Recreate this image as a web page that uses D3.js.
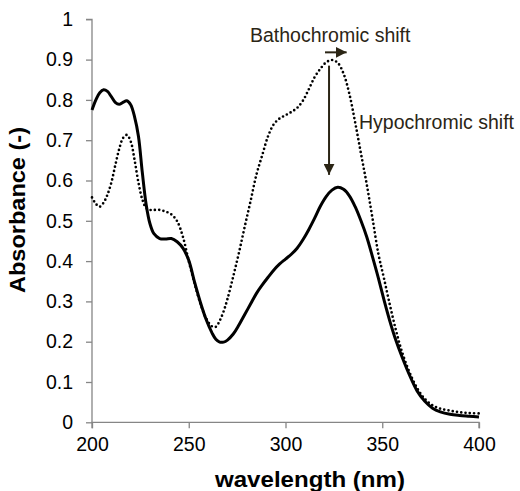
<!DOCTYPE html>
<html>
<head>
<meta charset="utf-8">
<script src="https://cdn.jsdelivr.net/npm/d3@7"></script>
<style>
  html, body { margin: 0; padding: 0; background: #fff; }
  svg { display: block; font-family: "Liberation Sans", Arial, sans-serif; }
</style>
</head>
<body>
<svg id="chart" width="520" height="491"></svg>
<script>
// UV-Vis absorption spectra: wavelength (nm) vs absorbance
const wavelengths = [200, 202, 204, 206, 208, 210, 212, 214, 216, 218, 220, 222, 224, 226, 228, 230, 232, 235, 238, 241, 244, 247, 250, 253, 256, 259, 262, 264, 266, 268, 270, 273, 276, 279, 282, 285, 288, 291, 294, 297, 300, 303, 306, 309, 312, 315, 318, 321, 324, 327, 330, 333, 336, 339, 342, 345, 348, 351, 354, 357, 360, 364, 368, 372, 376, 380, 385, 390, 395, 400];

// spectrum after the shift (solid line)
const absorbanceShifted = [0.775, 0.800, 0.818, 0.825, 0.821, 0.808, 0.794, 0.789, 0.794, 0.798, 0.788, 0.758, 0.710, 0.620, 0.540, 0.492, 0.468, 0.456, 0.455, 0.456, 0.448, 0.432, 0.402, 0.348, 0.298, 0.255, 0.222, 0.206, 0.199, 0.199, 0.204, 0.219, 0.242, 0.268, 0.294, 0.320, 0.341, 0.360, 0.378, 0.393, 0.405, 0.417, 0.432, 0.453, 0.478, 0.506, 0.536, 0.560, 0.576, 0.583, 0.578, 0.562, 0.535, 0.500, 0.460, 0.410, 0.358, 0.302, 0.250, 0.204, 0.165, 0.118, 0.078, 0.052, 0.035, 0.026, 0.020, 0.017, 0.015, 0.013];

// spectrum before the shift (dotted line)
const absorbanceInitial = [0.558, 0.542, 0.535, 0.545, 0.565, 0.595, 0.637, 0.677, 0.705, 0.713, 0.697, 0.651, 0.595, 0.553, 0.532, 0.527, 0.527, 0.527, 0.523, 0.516, 0.499, 0.460, 0.400, 0.345, 0.295, 0.258, 0.238, 0.237, 0.252, 0.275, 0.306, 0.362, 0.422, 0.487, 0.550, 0.615, 0.663, 0.710, 0.740, 0.754, 0.762, 0.770, 0.780, 0.798, 0.826, 0.856, 0.877, 0.893, 0.899, 0.892, 0.865, 0.815, 0.744, 0.667, 0.590, 0.505, 0.418, 0.355, 0.290, 0.230, 0.178, 0.125, 0.085, 0.058, 0.042, 0.034, 0.029, 0.025, 0.023, 0.022];

const xTicks = [200, 250, 300, 350, 400];
const yTicks = [0, 0.1, 0.2, 0.3, 0.4, 0.5, 0.6, 0.7, 0.8, 0.9, 1];

const svg = d3.select("#chart");
const plotLeft = 92, plotRight = 479, plotTop = 19.3, plotBottom = 422.3;

const x = d3.scaleLinear().domain([200, 400]).range([plotLeft, plotRight]);
const y = d3.scaleLinear().domain([0, 1]).range([plotBottom, plotTop]);

const axisColor = "#868686";
const noteColor = "#2b2515";

// y axis
const yAxis = svg.append("g")
  .attr("transform", `translate(${plotLeft},0)`)
  .call(d3.axisLeft(y).tickValues(yTicks).tickSize(6).tickPadding(13)
    .tickFormat(d => d === 0 || d === 1 ? d3.format("d")(d) : d3.format(".1f")(d)));

// x axis
const xAxis = svg.append("g")
  .attr("transform", `translate(0,${plotBottom})`)
  .call(d3.axisBottom(x).tickValues(xTicks).tickSize(6).tickPadding(9).tickFormat(d3.format("d")));

[yAxis, xAxis].forEach(g => {
  g.select(".domain").attr("stroke", axisColor).attr("stroke-width", 1.3);
  g.selectAll(".tick line").attr("stroke", axisColor).attr("stroke-width", 1.3);
  g.selectAll(".tick text")
    .attr("fill", "#000")
    .style("font-family", "'Liberation Sans', Arial, sans-serif")
    .style("font-size", "19.5px");
});
yAxis.select(".domain").attr("d", `M-6,${y(1)}H0V${plotBottom}`);
xAxis.select(".domain").attr("d", `M${plotLeft},6V0H${plotRight}V6`);

// axis titles
svg.append("text")
  .attr("transform", "translate(25,210) rotate(-90)")
  .attr("text-anchor", "middle")
  .attr("font-weight", "bold")
  .attr("font-size", 22)
  .attr("textLength", 166)
  .attr("lengthAdjust", "spacingAndGlyphs")
  .text("Absorbance (-)");

svg.append("text")
  .attr("x", 310)
  .attr("y", 486.5)
  .attr("text-anchor", "middle")
  .attr("font-weight", "bold")
  .attr("font-size", 22)
  .attr("textLength", 190)
  .attr("lengthAdjust", "spacingAndGlyphs")
  .text("wavelength (nm)");

// spectra
const line = (values) => d3.line()
  .x((d, i) => x(wavelengths[i]))
  .y(d => y(d))
  .curve(d3.curveCatmullRom.alpha(0.5))(values);

svg.append("path")
  .attr("d", line(absorbanceInitial))
  .attr("fill", "none")
  .attr("stroke", "#000")
  .attr("stroke-width", 2.7)
  .attr("stroke-linecap", "round")
  .attr("stroke-dasharray", "0 4.3");

svg.append("path")
  .attr("d", line(absorbanceShifted))
  .attr("fill", "none")
  .attr("stroke", "#000")
  .attr("stroke-width", 3);

// annotation arrows
const defs = svg.append("defs");
defs.append("marker")
  .attr("id", "head")
  .attr("viewBox", "0 0 10 10")
  .attr("refX", 10).attr("refY", 5)
  .attr("markerWidth", 5.5).attr("markerHeight", 5.5)
  .attr("markerUnits", "strokeWidth")
  .attr("orient", "auto")
  .append("path")
  .attr("d", "M0,0L10,5L0,10Z")
  .attr("fill", noteColor);

// bathochromic: red shift of the maximum
svg.append("line")
  .attr("x1", x(320.4)).attr("y1", y(0.918))
  .attr("x2", x(331.6)).attr("y2", y(0.918))
  .attr("stroke", noteColor).attr("stroke-width", 2)
  .attr("marker-end", "url(#head)");

// hypochromic: drop in intensity
svg.append("line")
  .attr("x1", x(322.5)).attr("y1", y(0.885))
  .attr("x2", x(322.5)).attr("y2", y(0.614))
  .attr("stroke", noteColor).attr("stroke-width", 2)
  .attr("marker-end", "url(#head)");

svg.append("text")
  .attr("x", 250).attr("y", 42)
  .attr("fill", noteColor)
  .attr("font-size", 19.5)
  .text("Bathochromic shift");

svg.append("text")
  .attr("x", 359).attr("y", 129.3)
  .attr("fill", noteColor)
  .attr("font-size", 19.5)
  .text("Hypochromic shift");
</script>
</body>
</html>
